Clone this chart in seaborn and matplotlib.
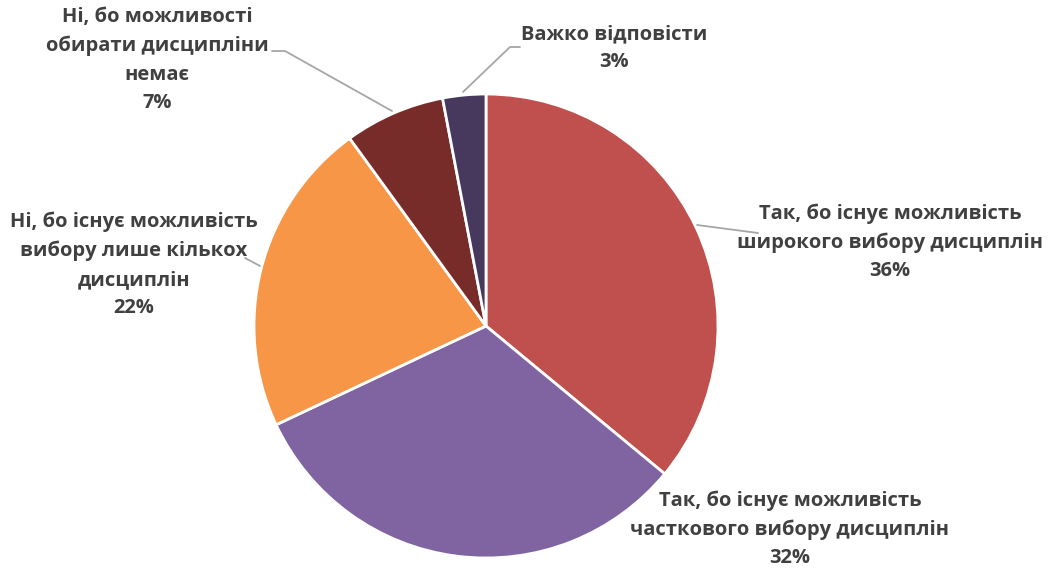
import matplotlib
matplotlib.use('Agg')
import matplotlib.pyplot as plt
import seaborn as sns

sns.set_theme(style='white')
plt.rcParams['font.family'] = ['Open Sans', 'DejaVu Sans']

labels = [
    'Так, бо існує можливість\nширокого вибору дисциплін',
    'Так, бо існує можливість\nчасткового вибору дисциплін',
    'Ні, бо існує можливість\nвибору лише кількох\nдисциплін',
    'Ні, бо можливості\nобирати дисципліни\nнемає',
    'Важко відповісти',
]
shares = [36, 32, 22, 7, 3]
colors = ['#C0504D', '#8064A2', '#F79646', '#772C2A', '#47395D']

# label layout in pixel coords (x, y from top), plus leader line points
label_pos = [(890, 242), (790, 529), (134, 265), (157, 60), (614, 48)]
leaders = [
    [(697, 225), (758, 233)],
    None,
    [(260, 266), (245, 258)],
    [(392, 111), (285, 51), (272, 51)],
    [(463, 92), (510, 47), (520, 47)],
]

H = 569
fig = plt.figure(figsize=(10.52, 5.69), dpi=100)
ax = fig.add_axes([0, 0, 1, 1])
ax.pie(shares, colors=colors, startangle=90, counterclock=False,
       center=(486, H - 326), radius=232,
       wedgeprops=dict(edgecolor='white', linewidth=2))
ax.set_xlim(0, 1052)
ax.set_ylim(0, H)
ax.set_aspect('equal')
ax.axis('off')

for lab, val, (x, y), ld in zip(labels, shares, label_pos, leaders):
    ax.text(x, H - y, f'{lab}\n{val}%', ha='center', va='center', fontsize=14.5,
            fontweight='bold', color='#404040', linespacing=1.55)
    if ld:
        ax.plot([p[0] for p in ld], [H - p[1] for p in ld],
                color='#A6A6A6', lw=1.3)

fig.savefig('out.png', dpi=100, facecolor='white')
